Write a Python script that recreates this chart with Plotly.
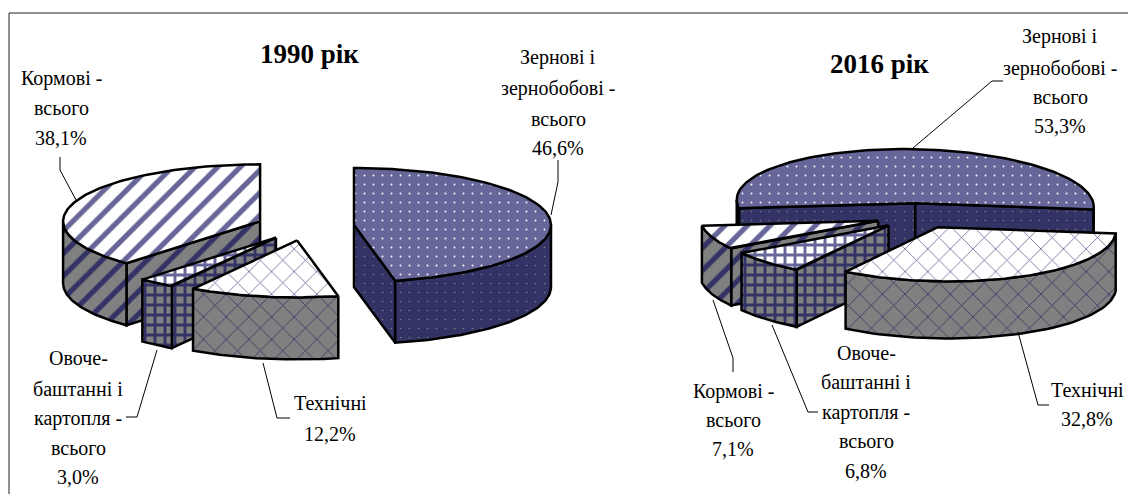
import math
import plotly.graph_objects as go

# ---- data ----
categories = ["Зернові і зернобобові - всього", "Технічні", "Овоче-баштанні і картопля - всього", "Кормові - всього"]
values_1990 = [46.6, 12.2, 3.0, 38.1]
values_2016 = [53.3, 32.8, 6.8, 7.1]
title_1990 = "1990 рік"
title_2016 = "2016 рік"

PURPLE, DARK, GRAY = "#666699", "#333366", "#808080"
STYLE = [
    dict(top=dict(shape=".", size=9, solidity=0.035, fgcolor="white", bgcolor=PURPLE, fgopacity=1),
         side=dict(shape=".", size=9, solidity=0.025, fgcolor="#808080", bgcolor=DARK, fgopacity=1)),
    dict(top=dict(shape="x", size=16, solidity=0.1, fgcolor=PURPLE, bgcolor="white", fgopacity=1),
         side=dict(shape="x", size=16, solidity=0.1, fgcolor=DARK, bgcolor=GRAY, fgopacity=1)),
    dict(top=dict(shape="+", size=10, solidity=0.5, fgcolor=PURPLE, bgcolor="white", fgopacity=1),
         side=dict(shape="+", size=10, solidity=0.5, fgcolor=DARK, bgcolor=GRAY, fgopacity=1)),
    dict(top=dict(shape="/", size=16, solidity=0.33, fgcolor=PURPLE, bgcolor="white", fgopacity=1),
         side=dict(shape="/", size=16, solidity=0.33, fgcolor=DARK, bgcolor=GRAY, fgopacity=1)),
]

fig = go.Figure()


def poly(xs, ys, pattern, color):
    fig.add_trace(go.Scatter(
        x=xs, y=ys, mode="lines", fill="toself", fillcolor=color,
        fillpattern=pattern, line=dict(color="black", width=2.5),
        hoverinfo="skip", showlegend=False))


def pie(values, cx, cy, rx, ry, depth, start, explode, tilt, order):
    total = sum(values)
    spans, a = [], start
    for v in values:
        b = a + v / total * 360
        spans.append((a, b))
        a = b

    def pt(ox, oy, th):
        t = math.radians(th)
        return (ox + rx * math.sin(t), oy - ry * math.cos(t) + tilt * math.sin(t))

    for i in order:
        a, b = spans[i]
        st = STYLE[i]
        mid = math.radians((a + b) / 2)
        ox = cx + explode * rx * math.sin(mid)
        oy = cy - explode * ry * math.cos(mid)
        # radial walls
        for th, visible in ((a, math.sin(math.radians(a)) < 0), (b, math.sin(math.radians(b)) > 0)):
            if visible:
                p = pt(ox, oy, th)
                poly([ox, p[0], p[0], ox, ox], [oy, p[1], p[1] + depth, oy + depth, oy],
                     st["side"], st["side"]["bgcolor"])
        # outer rim
        for k in (-1, 0, 1):
            lo, hi = max(a, 90 + 360 * k), min(b, 270 + 360 * k)
            if hi > lo:
                ths = [lo + (hi - lo) * j / 60 for j in range(61)]
                up = [pt(ox, oy, t) for t in ths]
                xs = [q[0] for q in up] + [q[0] for q in reversed(up)] + [up[0][0]]
                ys = [q[1] for q in up] + [q[1] + depth for q in reversed(up)] + [up[0][1]]
                poly(xs, ys, st["side"], st["side"]["bgcolor"])
        # top face
        ths = [a + (b - a) * j / 120 for j in range(121)]
        arc = [pt(ox, oy, t) for t in ths]
        poly([ox] + [q[0] for q in arc] + [ox], [oy] + [q[1] for q in arc] + [oy],
             st["top"], st["top"]["bgcolor"])


pie(values_1990, 305.5, 226.5, 197, 57, 62, 0, 0.2475, 0, [3, 2, 1, 0])
pie(values_2016, 917.5, 216, 178.5, 54, 57, 261, 0.237, 3.5, [0, 3, 2, 1])

# leader lines (layout furniture)
leaders = [
    [(551, 215), (558, 182), (558, 160)],
    [(60, 157), (60, 170), (76, 200)],
    [(157, 350), (137, 417), (126, 417)],
    [(263, 363), (277, 418), (290, 418)],
    [(913, 148), (992, 81), (1003, 81)],
    [(713, 300), (733, 358), (733, 372)],
    [(772, 325), (808, 412), (818, 412)],
    [(1018, 332), (1038, 405), (1049, 405)],
]
for seg in leaders:
    fig.add_trace(go.Scatter(x=[p[0] for p in seg], y=[p[1] for p in seg], mode="lines",
                             line=dict(color="black", width=1), hoverinfo="skip", showlegend=False))

labels = [
    (558, [("Зернові і", 57), ("зернобобові -", 88), ("всього", 119), ("46,6%", 148)]),
    (61, [("Кормові -", 78), ("всього", 108), ("38,1%", 138)]),
    (78, [("Овоче-", 358), ("баштанні і", 389), ("картопля -", 418), ("всього", 448), ("3,0%", 477)]),
    (330, [("Технічні", 403), ("12,2%", 434)]),
    (1060, [("Зернові і", 36), ("зернобобові -", 68), ("всього", 97), ("53,3%", 126)]),
    (733, [("Кормові -", 391), ("всього", 420), ("7,1%", 449)]),
    (866, [("Овоче-", 353), ("баштанні і", 382), ("картопля -", 412), ("всього", 441), ("6,8%", 471)]),
    (1087, [("Технічні", 390), ("32,8%", 419)]),
]
annotations = []
for x, lines in labels:
    for txt, y in lines:
        annotations.append(dict(x=x, y=y, text=txt, showarrow=False, xanchor="center", yanchor="middle",
                                font=dict(family="Liberation Serif", size=20, color="black")))
for x, y, txt in ((309, 54, title_1990), (879, 64, title_2016)):
    annotations.append(dict(x=x, y=y, text="<b>%s</b>" % txt, showarrow=False, xanchor="center", yanchor="middle",
                            font=dict(family="Liberation Serif", size=27, color="black")))

frame = [
    dict(type="line", x0=9, y0=13, x1=1128, y1=13, line=dict(color="#222222", width=1)),
    dict(type="line", x0=9, y0=13, x1=9, y1=494, line=dict(color="#222222", width=1)),
]

fig.update_layout(
    width=1128, height=494, margin=dict(l=0, r=0, t=0, b=0),
    paper_bgcolor="white", plot_bgcolor="white", showlegend=False,
    xaxis=dict(range=[0, 1128], visible=False, fixedrange=True),
    yaxis=dict(range=[494, 0], visible=False, fixedrange=True),
    annotations=annotations, shapes=frame,
)
fig.write_html("out.html", config={"displayModeBar": False},
               post_script="document.body.style.margin='0';document.documentElement.style.overflow='hidden';")
